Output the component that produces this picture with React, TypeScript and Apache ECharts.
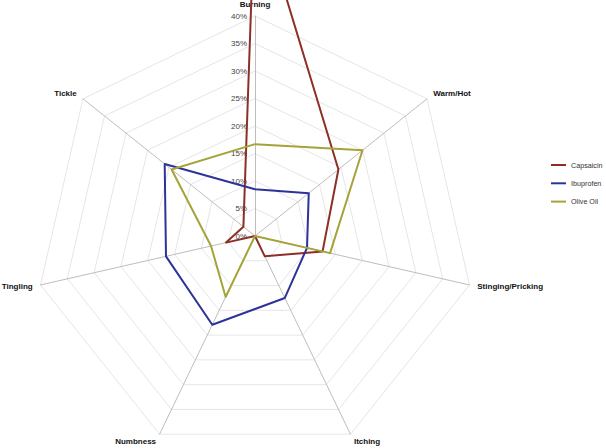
import React, { useEffect, useRef } from "react";
import * as echarts from "echarts";

// Indicators listed counter-clockwise from the top (ECharts radar order)
const indicators = ["Burning", "Tickle", "Tingling", "Numbness", "Itching", "Stinging/Pricking", "Warm/Hot"];
const seriesNames = ["Capsaicin", "Ibuprofen", "Olive Oil"];
const capsaicin = [62, 2.7, 5.4, 0, 4.1, 12.6, 19.4];
const ibuprofen = [8.5, 21, 16.6, 17.9, 12.5, 9.7, 12.5];
const oliveOil = [16.7, 19.4, 8.2, 12.3, 0, 14, 25];
const axisMax = 40;
const colors = ["#8c2f26", "#2d3398", "#a5a339"];

export default function App() {
  const ref = useRef<HTMLDivElement>(null);
  useEffect(() => {
    document.body.style.margin = "0";
    if (!ref.current) return;
    const chart = echarts.init(ref.current, null, { renderer: "svg" });
    const values = [capsaicin, ibuprofen, oliveOil];
    chart.setOption({
      animation: false,
      backgroundColor: "#ffffff",
      legend: {
        orient: "vertical",
        left: 551,
        top: 161.5,
        padding: 0,
        icon: "rect",
        itemWidth: 15,
        itemHeight: 2,
        itemGap: 11.3,
        textStyle: { fontFamily: "Liberation Sans", fontSize: 7.2, color: "#333" },
        data: seriesNames,
      },
      radar: {
        center: [255, 236],
        radius: 220,
        startAngle: 90,
        shape: "polygon",
        splitNumber: 8,
        nameGap: 8,
        axisName: {
          color: "#111",
          fontFamily: "Liberation Sans",
          fontWeight: "bold",
          fontSize: 8,
        },
        axisLine: { lineStyle: { color: "#bdbdbd", width: 1 } },
        splitLine: { lineStyle: { color: "#e6e6e6", width: 1 } },
        splitArea: { show: false },
        axisTick: { show: false },
        axisLabel: {
          show: false,
          fontFamily: "Liberation Sans",
          fontSize: 8,
          color: "#444",
          margin: 4,
          align: "right",
          padding: [0, 4, 0, 0],
          formatter: "{value}%",
        },
        indicator: indicators.map((name, i) => ({
          name,
          min: 0,
          max: axisMax,
          ...(i === 0 ? { axisLabel: { show: true } } : {}),
        })),
      },
      series: [
        {
          type: "radar",
          symbol: "none",
          data: seriesNames.map((name, i) => ({
            name,
            value: values[i],
            lineStyle: { color: colors[i], width: 2 },
            itemStyle: { color: colors[i] },
          })),
        },
      ],
    });
    return () => chart.dispose();
  }, []);
  return <div ref={ref} style={{ width: 606, height: 448 }} />;
}
